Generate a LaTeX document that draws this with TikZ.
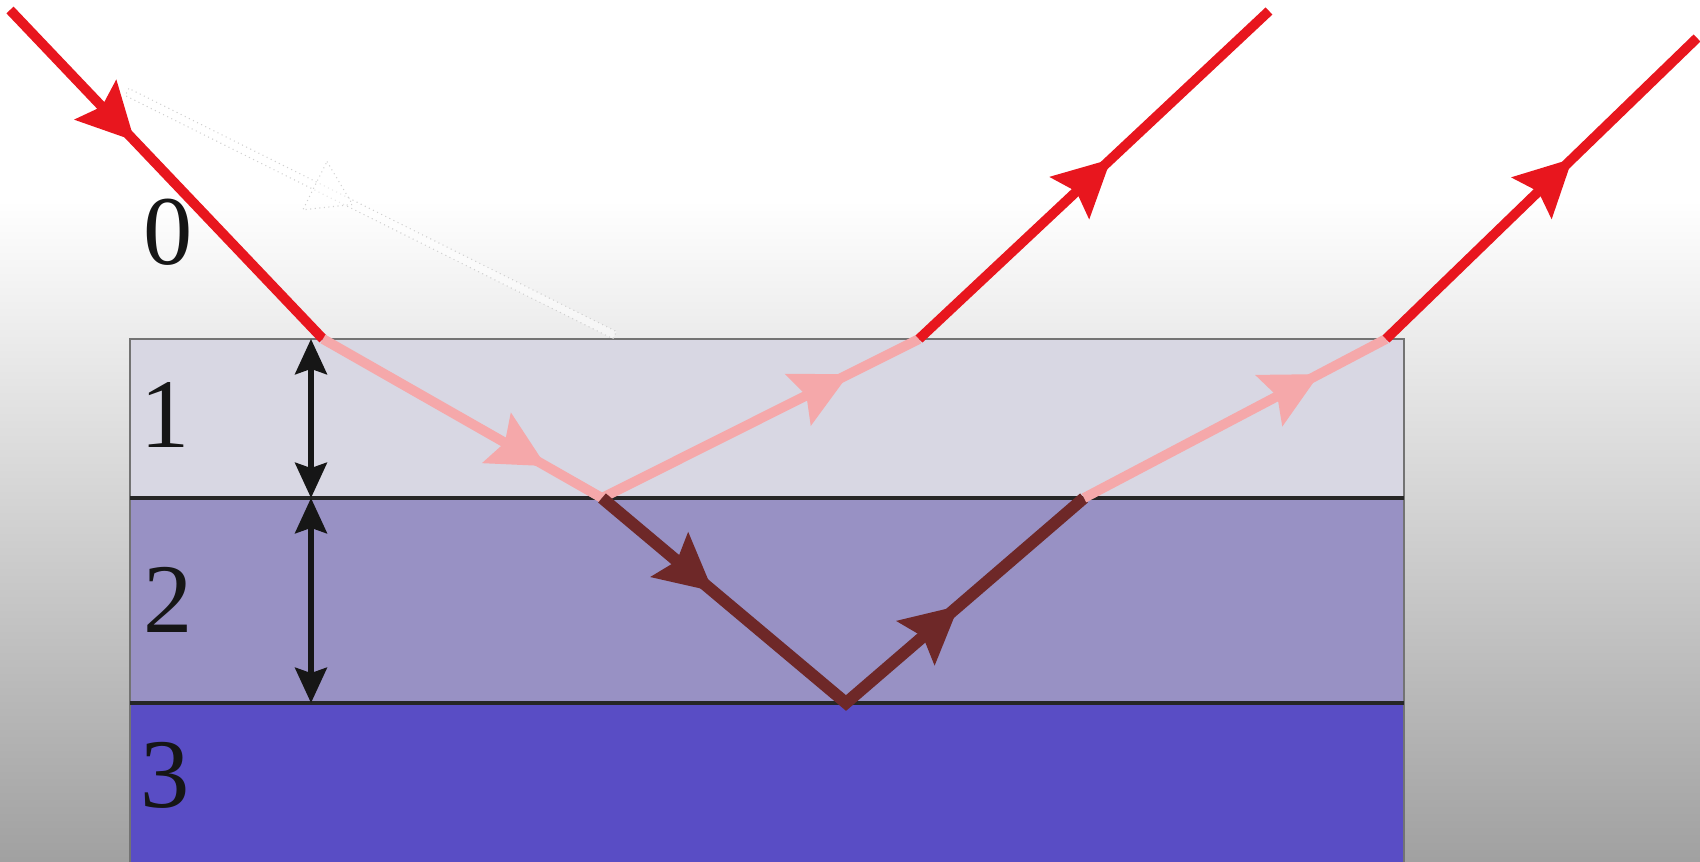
\documentclass[tikz,border=0pt]{standalone}
\usepackage{fontspec}
\setmainfont{Liberation Serif}
\usetikzlibrary{arrows.meta,decorations.markings}
\definecolor{rayred}{HTML}{E8161E}
\definecolor{raypink}{HTML}{F5A8AA}
\definecolor{raydark}{HTML}{6E2828}
\definecolor{layerone}{HTML}{D8D7E3}
\definecolor{layertwo}{HTML}{9891C4}
\definecolor{layerthree}{HTML}{594DC5}
\definecolor{inkblack}{HTML}{161616}
\begin{document}
\begin{tikzpicture}[x=0.01cm, y=-0.01cm,
  ray/.style={line width=#1},
  mid/.style={postaction={decorate}, decoration={markings, mark=at position #1 with {\arrow{Stealth[length=16pt,width=16pt,inset=2.5pt]}}}},
  twomid/.style 2 args={postaction={decorate}, decoration={markings,
    mark=at position #1 with {\arrow{Stealth[length=16pt,width=16pt,inset=2.5pt]}},
    mark=at position #2 with {\arrow{Stealth[length=16pt,width=16pt,inset=2.5pt]}}}},
  gauge/.style={{Stealth[length=10pt,width=9pt,inset=1.5pt]}-{Stealth[length=10pt,width=9pt,inset=1.5pt]}, line width=1.7pt, inkblack},
  ghost/.style={fill=white, fill opacity=0.5, draw=black!18, densely dotted, line width=0.3pt},
  lbl/.style={font=\fontsize{28}{28}\selectfont, text=inkblack, inner sep=0pt}]
\useasboundingbox (0,0) rectangle (1700,862);
% background
\fill[white] (0,0) rectangle (1700,200);
\shade[top color=white, bottom color=black!37] (0,200) rectangle (1700,862);
% layers
\fill[layerone] (130,339) rectangle (1404,498);
\fill[layertwo] (130,498) rectangle (1404,703);
\fill[layerthree] (130,703) rectangle (1404,862);
\draw[black!55, line width=0.5pt] (130,862) -- (130,339) -- (1404,339) -- (1404,862);
\draw[black!85, line width=0.9pt] (130,498) -- (1404,498) (130,703) -- (1404,703);
% faint arrow
\begin{scope}[shift={(127,92)}, rotate=-26.5]
\draw[ghost] (0,-4) rectangle (545,4);
\draw[ghost] (210,-27) -- (252,0) -- (210,27) -- cycle;
\end{scope}
% ray points
\coordinate (in) at (10,10);
\coordinate (p1) at (323,339);
\coordinate (p2) at (602,498);
\coordinate (p3) at (919,339);
\coordinate (out1) at (1269,11);
\coordinate (p4) at (846,703);
\coordinate (p5) at (1084,498);
\coordinate (p6) at (1386,339);
\coordinate (out2) at (1697,38);
% rays
\draw[ray=2.8pt, rayred, mid=0.4] (in) -- (p1);
\draw[ray=2.8pt, raypink, mid=0.8] (p1) -- (p2);
\draw[ray=2.8pt, raypink, mid=0.78] (p2) -- (p3);
\draw[ray=2.8pt, rayred, mid=0.55] (p3) -- (out1);
\draw[ray=3.4pt, raydark, twomid={0.23}{0.74}] (p2) -- (p4) -- (p5);
\draw[ray=2.8pt, raypink, mid=0.78] (p5) -- (p6);
\draw[ray=2.8pt, rayred, mid=0.6] (p6) -- (out2);
% thicknesses
\coordinate (t1) at (311,339);
\coordinate (t2) at (311,498);
\coordinate (t3) at (311,703);
\draw[gauge] (t1) -- (t2);
\draw[gauge] (t2) -- (t3);
% media
\node[lbl] (m0) at (168,232) {0};
\node[lbl] (m1) at (165,415) {1};
\node[lbl] (m2) at (168,600) {2};
\node[lbl] (m3) at (165,775) {3};
\end{tikzpicture}
\end{document}
